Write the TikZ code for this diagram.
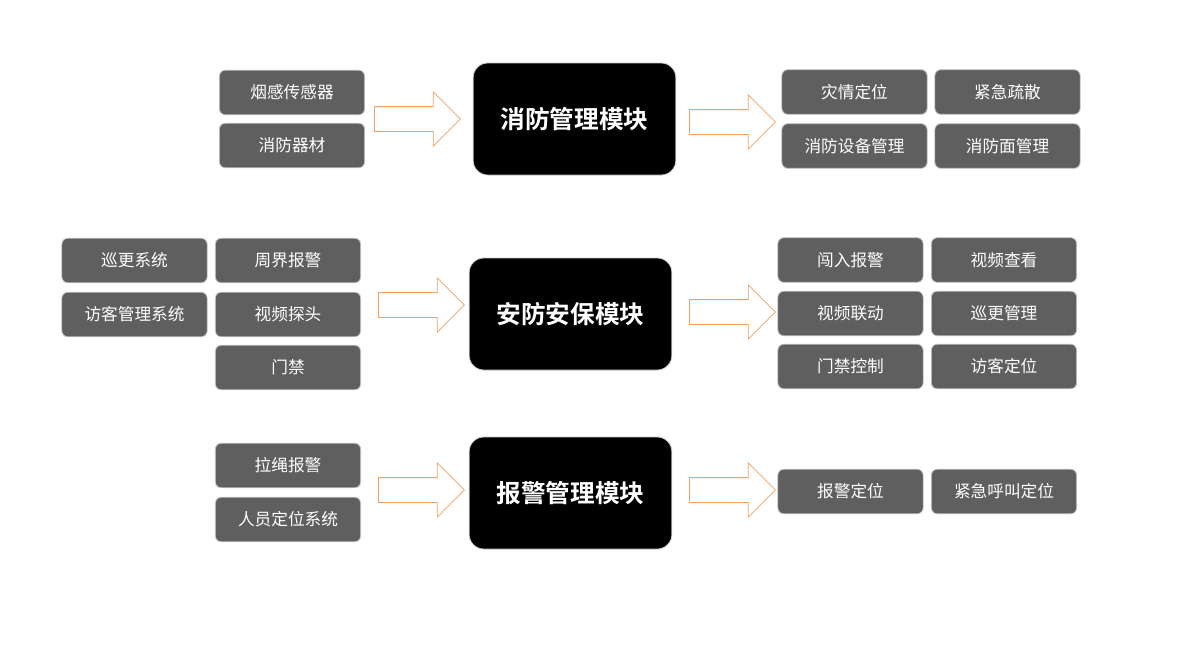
\documentclass[tikz,border=0pt]{standalone}
\usepackage{fontspec}
\setmainfont{Noto Sans CJK SC}[BoldFont=Noto Sans CJK SC Bold]
\usetikzlibrary{shapes.arrows}

% Farben
\definecolor{boxgray}{RGB}{95,95,95}
\definecolor{boxline}{RGB}{200,200,200}
\definecolor{arroworange}{RGB}{240,160,100}

\tikzset{
    subbox/.style={rectangle, rounded corners=4.5pt, draw=boxline, line width=0.6pt,
        fill=boxgray, text=white, minimum width=109pt, minimum height=33.5pt,
        inner sep=0pt, font=\fontsize{12.5pt}{14pt}\selectfont},
    modbox/.style={rectangle, rounded corners=11pt, draw=boxline, line width=0.6pt,
        fill=black, text=white, minimum width=152pt, minimum height=84pt,
        inner sep=0pt, font=\fontsize{18.5pt}{20pt}\selectfont\bfseries},
    flowarrow/.style={single arrow, draw=arroworange, line width=0.6pt, fill=white,
        minimum height=64.5pt, minimum width=40.5pt, inner xsep=0pt, inner ysep=9pt,
        single arrow head extend=11pt, anchor=tail}
}

\begin{document}
\begin{tikzpicture}[x=0.75pt, y=-0.75pt]
    \useasboundingbox (0,0) rectangle (1200,651);

    % Zeile 1: 消防管理模块
    \node[subbox] (yangan) at (292,92.5) {烟感传感器};
    \node[subbox] (qicai) at (292,145.5) {消防器材};
    \node[flowarrow] (pfeilAa) at (374,119) {};
    \node[modbox] (xiaofang) at (574.5,119) {消防管理模块};
    \node[flowarrow] (pfeilAb) at (689,122) {};
    \node[subbox] (zaiqing) at (854.5,92) {灾情定位};
    \node[subbox] (shusan) at (1007.5,92) {紧急疏散};
    \node[subbox] (shebei) at (854.5,146) {消防设备管理};
    \node[subbox] (mian) at (1007.5,146) {消防面管理};

    % Zeile 2: 安防安保模块
    \node[subbox] (xungeng) at (134.5,260.5) {巡更系统};
    \node[subbox] (fangke) at (134.5,314.5) {访客管理系统};
    \node[subbox] (zhoujie) at (288,260.5) {周界报警};
    \node[subbox] (tantou) at (288,314.5) {视频探头};
    \node[subbox] (menjin) at (288,367.5) {门禁};
    \node[flowarrow] (pfeilBa) at (378,305) {};
    \node[modbox] (anfang) at (570.5,314) {安防安保模块};
    \node[flowarrow] (pfeilBb) at (689,312) {};
    \node[subbox] (chuangru) at (850.5,260) {闯入报警};
    \node[subbox] (chakan) at (1004,260) {视频查看};
    \node[subbox] (liandong) at (850.5,313.5) {视频联动};
    \node[subbox] (xgguanli) at (1004,313.5) {巡更管理};
    \node[subbox] (mjkongzhi) at (850.5,366.5) {门禁控制};
    \node[subbox] (fkdingwei) at (1004,366.5) {访客定位};

    % Zeile 3: 报警管理模块
    \node[subbox] (lasheng) at (288,465.5) {拉绳报警};
    \node[subbox] (renyuan) at (288,519.5) {人员定位系统};
    \node[flowarrow] (pfeilCa) at (378,490) {};
    \node[modbox] (baojing) at (570.5,493) {报警管理模块};
    \node[flowarrow] (pfeilCb) at (689,490) {};
    \node[subbox] (bjdingwei) at (850.5,491.5) {报警定位};
    \node[subbox] (hujiao) at (1004,491.5) {紧急呼叫定位};

\end{tikzpicture}
\end{document}
